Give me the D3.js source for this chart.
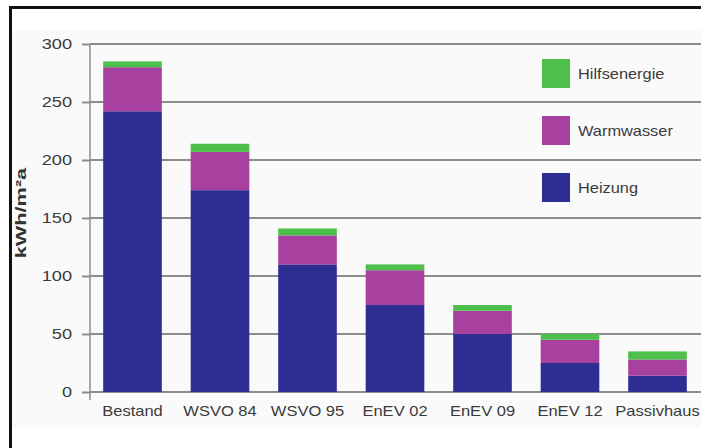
<!DOCTYPE html>
<html><head><meta charset="utf-8">
<script src="https://cdn.jsdelivr.net/npm/d3@7"></script>
<style>html,body{margin:0;padding:0;background:#fff;}svg{display:block;}</style>
</head><body>
<svg id="c" width="701" height="448"></svg>
<script>
const categories = ["Bestand","WSVO 84","WSVO 95","EnEV 02","EnEV 09","EnEV 12","Passivhaus"];
const heizung     = [242, 174, 110, 75, 50, 25, 14];
const warmwasser  = [38, 33, 25, 30, 20, 20, 14];
const hilfsenergie= [5, 7, 6, 5, 5, 5, 7];
const seriesNames = ["Heizung","Warmwasser","Hilfsenergie"];
const seriesColors = ["#2d2e93","#a8409f","#4cc04a"];
const yTicks = [0,50,100,150,200,250,300];
const yTitle = "kWh/m²a";

const FONT = "'Liberation Sans', Arial, sans-serif";
const svg = d3.select("#c");
// frame
svg.append("rect").attr("x",0).attr("y",0).attr("width",701).attr("height",448).attr("fill","#fff");
svg.append("rect").attr("x",10).attr("y",30).attr("width",691).attr("height",398).attr("fill","#fafafa");
svg.append("path").attr("d","M10.5,448 V7.5 H701").attr("fill","none").attr("stroke","#111").attr("stroke-width",3);

const x = d3.scaleBand().domain(categories).range([88.75, 701.25]).paddingInner(0.33).paddingOuter(0.165);
const y = d3.scaleLinear().domain([0,300]).range([392,44]);

// gridlines
svg.append("g").selectAll("line").data(yTicks).join("line")
  .attr("x1",90).attr("x2",701).attr("y1",d=>y(d)).attr("y2",d=>y(d))
  .attr("stroke","#8c8c8c").attr("stroke-width",2);

// y axis
const ya = svg.append("g").attr("transform","translate(90,0)")
  .call(d3.axisLeft(y).tickValues(yTicks).tickSize(8).tickPadding(10));
ya.select(".domain").remove();
ya.selectAll(".tick line").attr("stroke","#8c8c8c").attr("stroke-width",2);
ya.selectAll("text").attr("font-family",FONT).attr("font-size",14).attr("fill","#3a3a3a")
  .attr("transform","translate(-18,0) scale(1.3,1)").attr("x",0);
svg.append("line").attr("x1",90).attr("x2",90).attr("y1",y(300)).attr("y2",400).attr("stroke","#8c8c8c").attr("stroke-width",1.5);

// stacked bars
const rows = categories.map((c,i)=>({cat:c, Heizung:heizung[i], Warmwasser:warmwasser[i], Hilfsenergie:hilfsenergie[i]}));
const stack = d3.stack().keys(seriesNames)(rows);
svg.append("g").selectAll("g").data(stack).join("g")
  .attr("fill",(d,i)=>seriesColors[i])
  .selectAll("rect").data(d=>d).join("rect")
  .attr("x",d=>x(d.data.cat)).attr("width",x.bandwidth())
  .attr("y",d=>y(d[1])).attr("height",d=>y(d[0])-y(d[1]));

// x axis labels
const xa = svg.append("g").attr("transform","translate(0,392)")
  .call(d3.axisBottom(x).tickSize(0).tickPadding(14));
xa.select(".domain").remove();
xa.selectAll("text").attr("font-family",FONT).attr("font-size",14).attr("fill","#3a3a3a")
  .attr("transform","scale(1.18,1)");

// y title
svg.append("text").attr("transform","translate(26,213) rotate(-90) scale(1.55,1)")
  .attr("text-anchor","middle").attr("font-family",FONT)
  .attr("font-size",14).attr("font-weight","bold").attr("fill","#333").text(yTitle);

// legend
const legendOrder = ["Hilfsenergie","Warmwasser","Heizung"];
const lg = svg.append("g").selectAll("g").data(legendOrder).join("g")
  .attr("transform",(d,i)=>`translate(542,${59+i*57})`);
lg.append("rect").attr("width",28).attr("height",29).attr("fill",d=>seriesColors[seriesNames.indexOf(d)]);
lg.append("text").attr("transform","translate(36,15) scale(1.17,1)").attr("dy","0.35em")
  .attr("font-family",FONT).attr("font-size",14).attr("fill","#3a3a3a").text(d=>d);
</script>
</body></html>
